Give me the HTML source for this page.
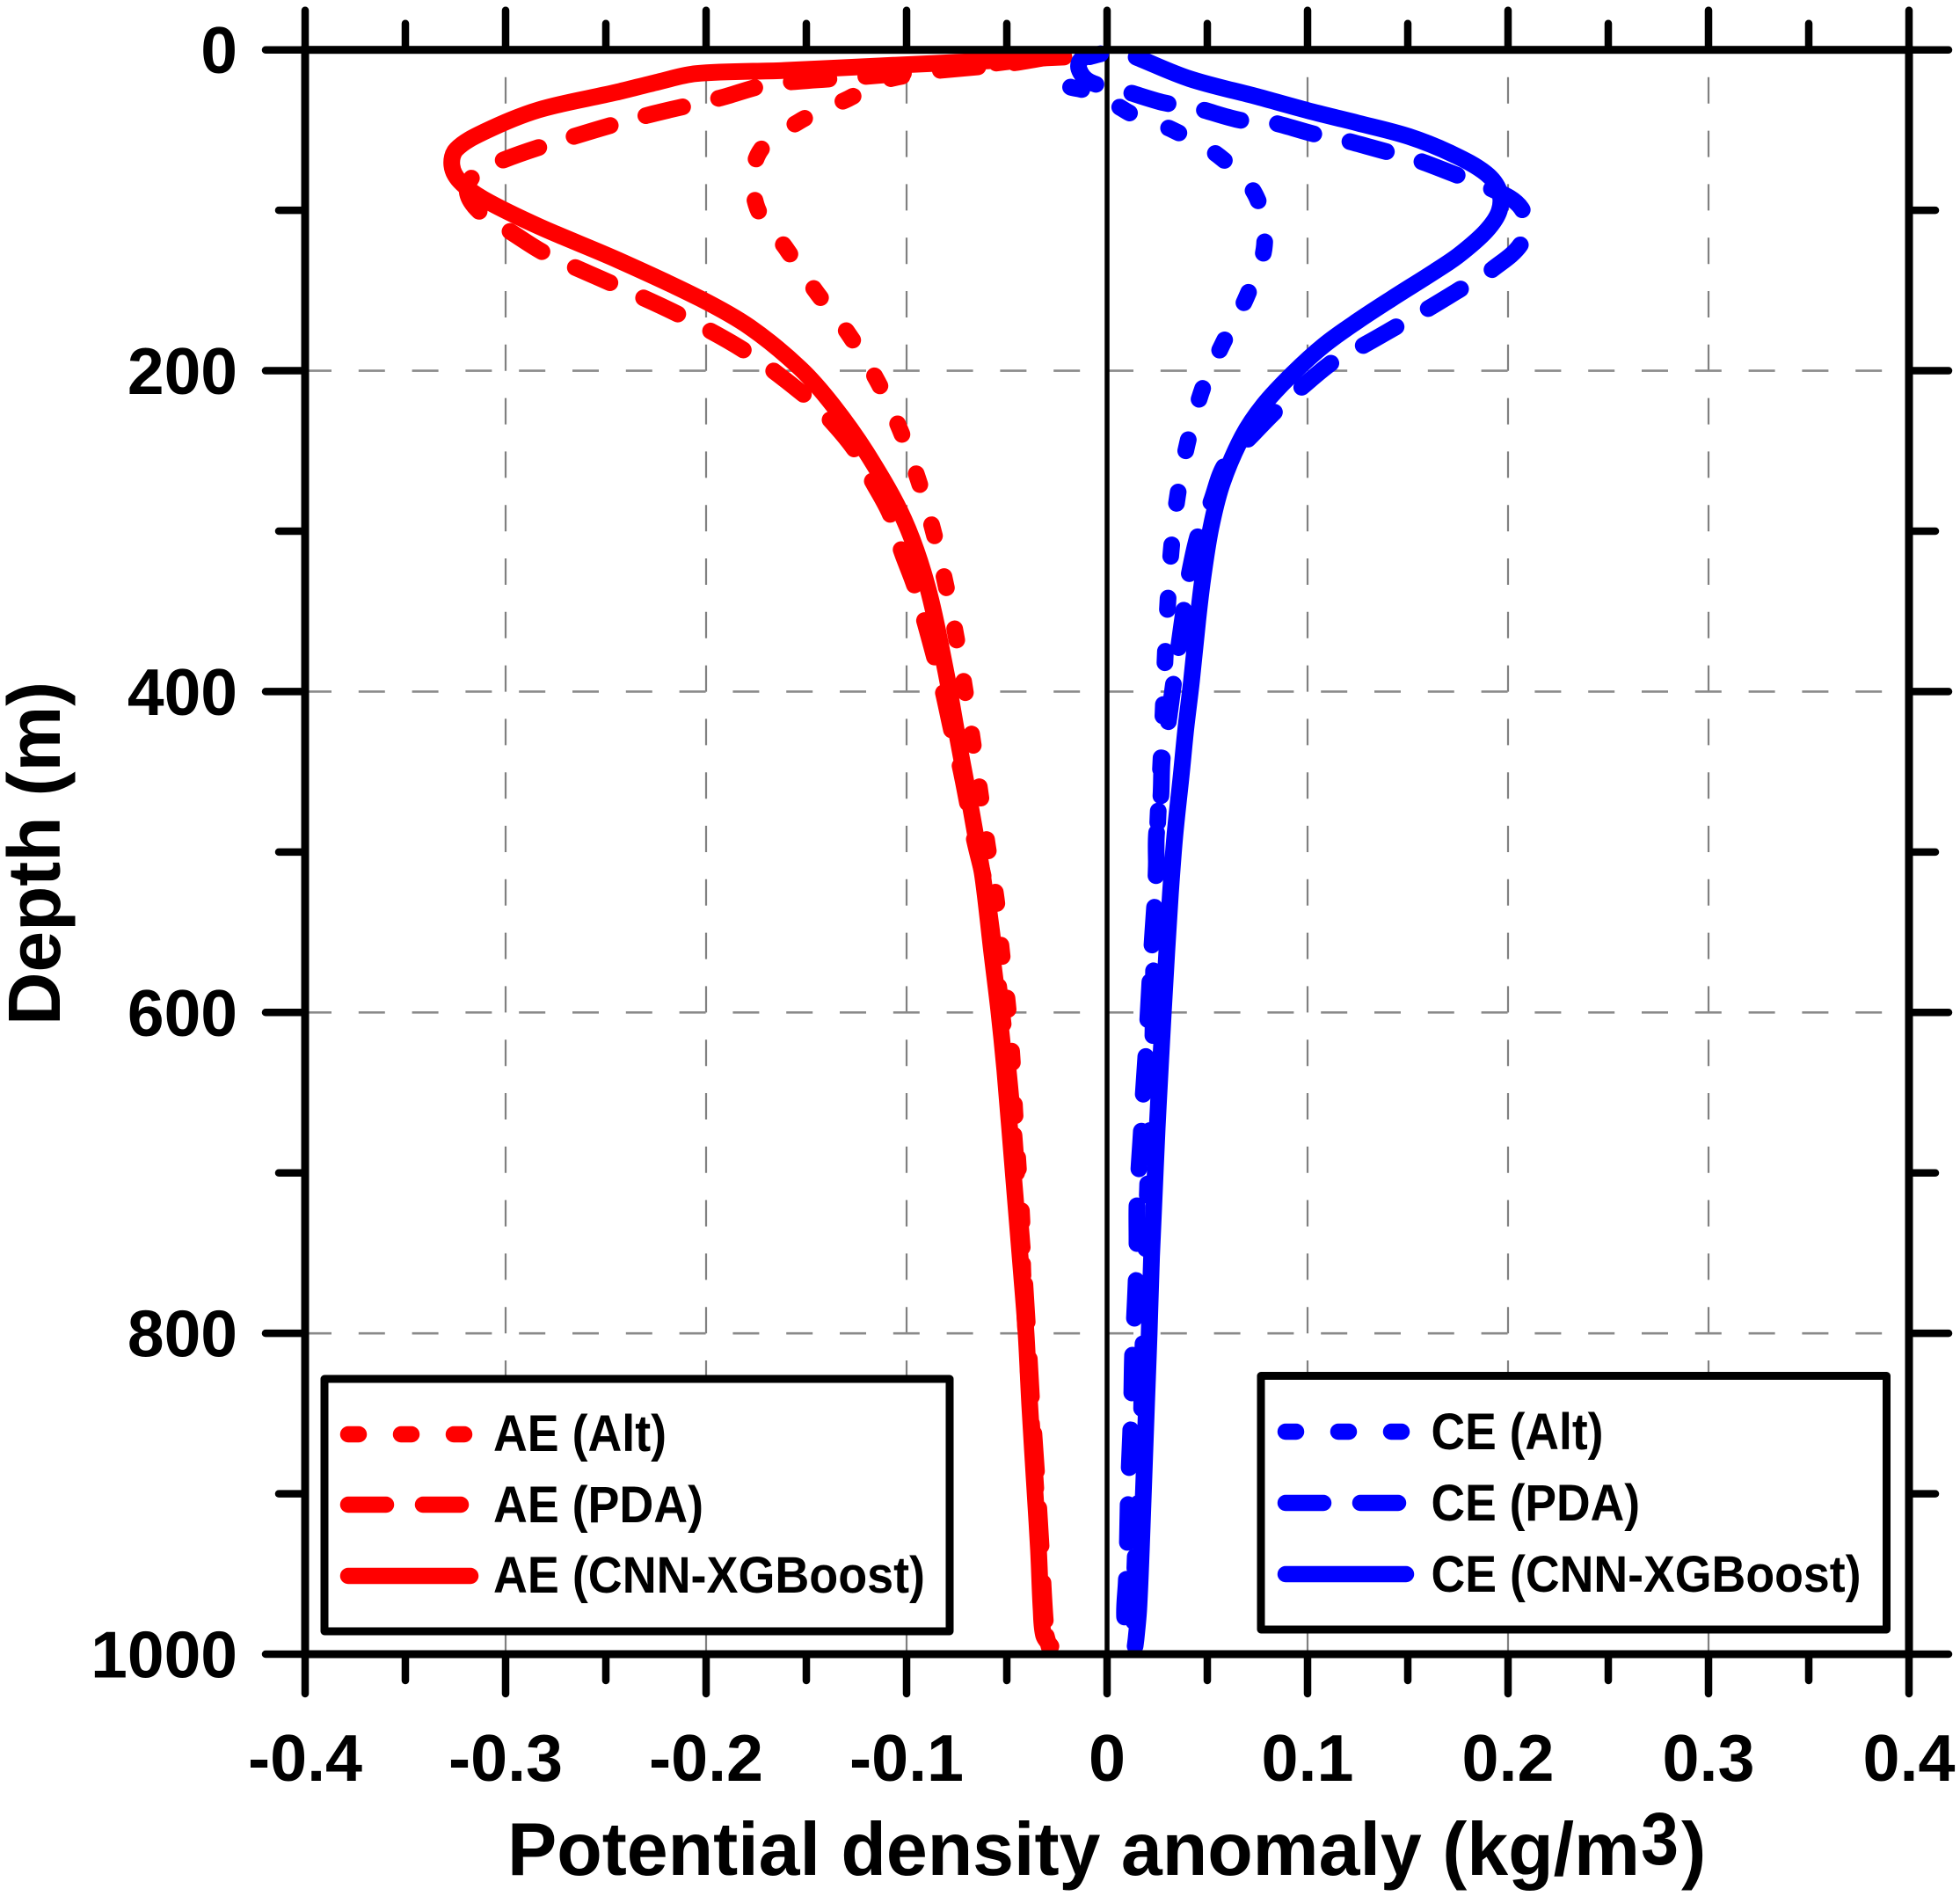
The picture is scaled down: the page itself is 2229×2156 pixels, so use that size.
<!DOCTYPE html>
<html lang="en">
<head>
<meta charset="utf-8">
<title>Potential density anomaly profiles</title>
<style>
html,body{margin:0;padding:0;background:#fff;}
svg{display:block;}
text{font-family:"Liberation Sans",Arial,sans-serif;font-weight:bold;fill:#000;}
</style>
</head>
<body>
<svg id="chart" xmlns="http://www.w3.org/2000/svg" width="2229" height="2156" viewBox="0 0 2229 2156">
  <rect x="0" y="0" width="2229" height="2156" fill="#fff"/>
  <g id="grid"></g>
  <g id="series"></g>
  <g id="axes"></g>
  <g id="labels"></g>

  <g>
    <rect x="369" y="1568" width="711" height="287" fill="#fff" stroke="#000" stroke-width="9" stroke-linejoin="round"/>
    <g>
      <line x1="396" y1="1631" x2="532" y2="1631" stroke="#f00" stroke-width="18.5" stroke-linecap="round" stroke-dasharray="12 48"/>
      <text x="561" y="1650" font-size="58" textLength="197" lengthAdjust="spacingAndGlyphs">AE (Alt)</text>
    </g>
    <g>
      <line x1="396" y1="1711" x2="526" y2="1711" stroke="#f00" stroke-width="18.5" stroke-linecap="round" stroke-dasharray="43 42"/>
      <text x="561" y="1731" font-size="58" textLength="239" lengthAdjust="spacingAndGlyphs">AE (PDA)</text>
    </g>
    <g>
      <line x1="396" y1="1792" x2="535" y2="1792" stroke="#f00" stroke-width="18.5" stroke-linecap="round"/>
      <text x="561" y="1811" font-size="58" textLength="491" lengthAdjust="spacingAndGlyphs">AE (CNN-XGBoost)</text>
    </g>
  </g>

  <g>
    <rect x="1434" y="1564.5" width="711.5" height="288.5" fill="#fff" stroke="#000" stroke-width="9" stroke-linejoin="round"/>
    <g>
      <line x1="1462" y1="1628" x2="1596" y2="1628" stroke="#00f" stroke-width="18.5" stroke-linecap="round" stroke-dasharray="12 48"/>
      <text x="1627.5" y="1648" font-size="58" textLength="196" lengthAdjust="spacingAndGlyphs">CE (Alt)</text>
    </g>
    <g>
      <line x1="1462" y1="1709" x2="1590" y2="1709" stroke="#00f" stroke-width="18.5" stroke-linecap="round" stroke-dasharray="43 42"/>
      <text x="1627.5" y="1729" font-size="58" textLength="237.5" lengthAdjust="spacingAndGlyphs">CE (PDA)</text>
    </g>
    <g>
      <line x1="1462" y1="1790" x2="1599" y2="1790" stroke="#00f" stroke-width="18.5" stroke-linecap="round"/>
      <text x="1627.5" y="1810" font-size="58" textLength="489" lengthAdjust="spacingAndGlyphs">CE (CNN-XGBoost)</text>
    </g>
  </g>

  <g>
    <text x="577" y="2132" font-size="85" textLength="1288" lengthAdjust="spacingAndGlyphs">Potential density anomaly (kg/m</text>
    <text x="1866" y="2120" font-size="84" textLength="43" lengthAdjust="spacingAndGlyphs">3</text>
    <text x="1912" y="2132" font-size="85">)</text>
  </g>
  <text transform="translate(68,1166) rotate(-90)" font-size="84" textLength="391" lengthAdjust="spacingAndGlyphs">Depth (m)</text>
</svg>

<script>
var xTicksMajor = [-0.4, -0.3, -0.2, -0.1, 0, 0.1, 0.2, 0.3, 0.4];
var xTicksMinor = [-0.35, -0.25, -0.15, -0.05, 0.05, 0.15, 0.25, 0.35];
var xTickLabels = ['-0.4', '-0.3', '-0.2', '-0.1', '0', '0.1', '0.2', '0.3', '0.4'];
var yTicksMajor = [0, 200, 400, 600, 800, 1000];
var yTicksMinor = [100, 300, 500, 700, 900];
var yTickLabels = ['0', '200', '400', '600', '800', '1000'];
var xGridValues = [-0.3, -0.2, -0.1, 0.1, 0.2, 0.3];
var yGridValues = [200, 400, 600, 800];

var aeAltDepth = [3,9,14,19.5,30.4,44.6,65,96.6,124,151,177,206.6,236,267.5,299.4,332,365,398,430.4,464,496.5,529,562,595,628,662,696,729,762,800,840,888,933,981,995];
var aeAltValue = [-0.022,-0.06,-0.09,-0.112,-0.129,-0.1535,-0.174,-0.175,-0.16,-0.145,-0.129,-0.1145,-0.1035,-0.0943,-0.0868,-0.0807,-0.0754,-0.071,-0.0671,-0.0632,-0.0596,-0.0553,-0.0526,-0.0496,-0.0474,-0.046,-0.0443,-0.0425,-0.042,-0.0405,-0.0385,-0.036,-0.0337,-0.0315,-0.029];

var aePdaDepth = [3,9,16.6,20,22.7,30,41,54,68.6,78.5,89.5,102,113,127,146,166,189,216.6,230,249,269,290,312,334,356,379,401,424,447,469,492,520,560,600,640,680,720,760,800,840,888,933,981,995];
var aePdaValue = [-0.022,-0.052,-0.121,-0.158,-0.173,-0.193,-0.23,-0.266,-0.301,-0.316,-0.319,-0.312,-0.298,-0.28,-0.2465,-0.212,-0.179,-0.1496,-0.1386,-0.126,-0.117,-0.108,-0.1026,-0.096,-0.091,-0.086,-0.0816,-0.0776,-0.0732,-0.0697,-0.0662,-0.061,-0.0565,-0.0525,-0.049,-0.0462,-0.044,-0.0415,-0.0395,-0.0377,-0.0351,-0.0329,-0.0307,-0.029];

var aeCnnDepth = [4.5,5.6,7.5,10,12.8,14.8,20,26.5,37.4,51,62,72,82,93,110,131,155,173,198.6,221.6,253,293,335,387,429,471,490,517,562.7,599,636,672,709,764,800,844,889.6,935,972,988.5,995];
var aeCnnValue = [-0.0215,-0.0404,-0.0697,-0.1136,-0.16,-0.205,-0.224,-0.245,-0.2835,-0.3105,-0.3246,-0.3268,-0.3228,-0.311,-0.2835,-0.244,-0.203,-0.178,-0.153,-0.1367,-0.119,-0.1012,-0.0895,-0.0805,-0.0745,-0.0682,-0.0655,-0.0618,-0.0575,-0.054,-0.051,-0.0486,-0.0462,-0.0426,-0.0404,-0.0386,-0.0364,-0.0342,-0.0329,-0.0316,-0.028];

var ceAltDepth = [2,6,13,21,25,34.7,40,50,66.5,90.6,122,153.6,183.7,210.6,245.7,278.6,312,344.7,378,411,444.7,478,511,544,573,617,709,803,880,941,995];
var ceAltValue = [-0.002,-0.0115,-0.015,-0.02,-0.012,0.0048,0.0123,0.0329,0.0561,0.0741,0.0785,0.0697,0.0575,0.0478,0.04,0.0351,0.032,0.0303,0.029,0.028,0.0268,0.0254,0.0245,0.0237,0.0232,0.0228,0.0202,0.018,0.0165,0.014,0.013];

var cePdaDepth = [2,5.5,12,20,25.5,33,35.8,44,44.6,52.8,55.5,63.8,67.6,78.5,85,98.7,118.6,137,147,161.7,170.6,184.4,193.6,210,224,239,258.6,282,301.6,328,346.5,374,393.6,421,440.7,466,490,514,534,558,600,628,652,674,699,721,745,767,792,814,839,860.7,885,907,932,954,978,995];
var cePdaValue = [-0.002,-0.0125,-0.014,-0.0085,0.0083,0.0285,0.043,0.067,0.0798,0.1044,0.1158,0.1404,0.1522,0.1754,0.189,0.2066,0.2075,0.192,0.179,0.1596,0.147,0.1276,0.1136,0.0974,0.085,0.0732,0.0588,0.0518,0.0456,0.0408,0.0386,0.0355,0.0333,0.0303,0.0276,0.0268,0.0246,0.0246,0.0237,0.0224,0.0205,0.0193,0.018,0.0171,0.0158,0.0149,0.0149,0.0145,0.0136,0.0127,0.0123,0.0118,0.011,0.0105,0.0101,0.0096,0.0088,0.012];

var ceCnnDepth = [4.5,18,29.2,37.8,45.6,54,65,77,88,100.4,113,128,138,155,169,184,201.9,221.4,241,270,297.8,329,356,393.6,423,452,490,526,562,599,636,672,709,752,800,844,889.6,935,972,990,995];
var ceCnnValue = [0.0145,0.0412,0.075,0.1,0.125,0.1505,0.1724,0.189,0.1956,0.1956,0.189,0.1754,0.1636,0.1421,0.125,0.1083,0.0925,0.078,0.0675,0.0575,0.0518,0.0478,0.0452,0.0421,0.0393,0.037,0.0338,0.0316,0.0298,0.0281,0.0265,0.025,0.0237,0.0222,0.021,0.0197,0.0184,0.0171,0.0158,0.0145,0.014];

var NS = 'http://www.w3.org/2000/svg';
var PLOT_LEFT = 347, PLOT_RIGHT = 2171, PLOT_TOP = 56.7, PLOT_BOTTOM = 1881;

function xScale(v) { return 1259 + v * 2280; }
function yScale(d) { return PLOT_TOP + d * (PLOT_BOTTOM - PLOT_TOP) / 1000; }

function makeLine(x1, y1, x2, y2, stroke, width) {
  var l = document.createElementNS(NS, 'line');
  l.setAttribute('x1', x1);
  l.setAttribute('y1', y1);
  l.setAttribute('x2', x2);
  l.setAttribute('y2', y2);
  l.setAttribute('stroke', stroke);
  l.setAttribute('stroke-width', width);
  return l;
}

function curvePath(values, depths) {
  var pts = values.map(function (v, i) { return [xScale(v), yScale(depths[i])]; });
  var d = 'M' + pts[0][0].toFixed(2) + ' ' + pts[0][1].toFixed(2);
  function tangent(i) {
    var a = pts[Math.max(i - 1, 0)], b = pts[Math.min(i + 1, pts.length - 1)];
    var dx = b[0] - a[0], dy = b[1] - a[1], n = Math.hypot(dx, dy) || 1;
    return [dx / n, dy / n];
  }
  for (var i = 0; i < pts.length - 1; i++) {
    var p = pts[i], q = pts[i + 1];
    var h = Math.hypot(q[0] - p[0], q[1] - p[1]) / 3;
    var t0 = tangent(i), t1 = tangent(i + 1);
    d += 'C' + (p[0] + t0[0] * h).toFixed(2) + ' ' + (p[1] + t0[1] * h).toFixed(2) + ' ' +
      (q[0] - t1[0] * h).toFixed(2) + ' ' + (q[1] - t1[1] * h).toFixed(2) + ' ' +
      q[0].toFixed(2) + ' ' + q[1].toFixed(2);
  }
  return d;
}

function lengthAtDepth(path, depth) {
  var target = yScale(depth), lo = 0, hi = path.getTotalLength();
  for (var i = 0; i < 40; i++) {
    var mid = (lo + hi) / 2;
    if (path.getPointAtLength(mid).y < target) { lo = mid; } else { hi = mid; }
  }
  return lo;
}

function addSeries(name, values, depths, color, dash, gap, anchorDepth) {
  var p = document.createElementNS(NS, 'path');
  
  
  p.setAttribute('d', curvePath(values, depths));
  p.setAttribute('fill', 'none');
  p.setAttribute('stroke', color);
  p.setAttribute('stroke-width', '19');
  p.setAttribute('stroke-linecap', 'round');
  p.setAttribute('stroke-linejoin', 'round');
  document.getElementById('series').appendChild(p);
  if (dash) {
    p.setAttribute('stroke-dasharray', dash + ' ' + gap);
    p.setAttribute('stroke-dashoffset', (dash / 2 - lengthAtDepth(p, anchorDepth)).toFixed(2));
  }
}

var gridG = document.getElementById('grid');
xGridValues.forEach(function (v) {
  var l = makeLine(xScale(v), PLOT_BOTTOM, xScale(v), PLOT_TOP, '#808080', 2.2);
  l.setAttribute('stroke-dasharray', '30 30.8');
  
  
  gridG.appendChild(l);
});
yGridValues.forEach(function (d) {
  var l = makeLine(PLOT_LEFT, yScale(d), PLOT_RIGHT, yScale(d), '#8a8a8a', 2.6);
  l.setAttribute('stroke-dasharray', '30 30.8');
  
  
  gridG.appendChild(l);
});
var zeroLine = makeLine(xScale(0), PLOT_TOP, xScale(0), PLOT_BOTTOM, '#000', 5.5);


gridG.appendChild(zeroLine);

addSeries('series-ae-alt', aeAltValue, aeAltDepth, '#f00', 13, 47.6, 299.4);
addSeries('series-ae-pda', aePdaValue, aePdaDepth, '#f00', 43, 42, 367);
addSeries('series-ae-cnn-xgboost', aeCnnValue, aeCnnDepth, '#f00', 0, 0, 0);
addSeries('series-ce-alt', ceAltValue, ceAltDepth, '#00f', 13, 47.6, 312);
addSeries('series-ce-pda', cePdaValue, cePdaDepth, '#00f', 43, 42, 314.8);
addSeries('series-ce-cnn-xgboost', ceCnnValue, ceCnnDepth, '#00f', 0, 0, 0);

var axesG = document.getElementById('axes');
function addTick(x1, y1, x2, y2, name) {
  var t = makeLine(x1, y1, x2, y2, '#000', 8.5);
  t.setAttribute('stroke-linecap', 'round');
  
  
  axesG.appendChild(t);
}
var MAJOR = 45, MINOR = 30;
xTicksMajor.forEach(function (v) {
  addTick(xScale(v), PLOT_TOP, xScale(v), PLOT_TOP - MAJOR, 'top-major-tick');
  addTick(xScale(v), PLOT_BOTTOM, xScale(v), PLOT_BOTTOM + MAJOR, 'bottom-major-tick');
});
xTicksMinor.forEach(function (v) {
  addTick(xScale(v), PLOT_TOP, xScale(v), PLOT_TOP - MINOR, 'top-minor-tick');
  addTick(xScale(v), PLOT_BOTTOM, xScale(v), PLOT_BOTTOM + MINOR, 'bottom-minor-tick');
});
yTicksMajor.forEach(function (d) {
  addTick(PLOT_LEFT, yScale(d), PLOT_LEFT - MAJOR, yScale(d), 'left-major-tick');
  addTick(PLOT_RIGHT, yScale(d), PLOT_RIGHT + MAJOR, yScale(d), 'right-major-tick');
});
yTicksMinor.forEach(function (d) {
  addTick(PLOT_LEFT, yScale(d), PLOT_LEFT - MINOR, yScale(d), 'left-minor-tick');
  addTick(PLOT_RIGHT, yScale(d), PLOT_RIGHT + MINOR, yScale(d), 'right-minor-tick');
});
var frame = document.createElementNS(NS, 'rect');
frame.setAttribute('x', PLOT_LEFT);
frame.setAttribute('y', PLOT_TOP);
frame.setAttribute('width', PLOT_RIGHT - PLOT_LEFT);
frame.setAttribute('height', PLOT_BOTTOM - PLOT_TOP);
frame.setAttribute('fill', 'none');
frame.setAttribute('stroke', '#000');
frame.setAttribute('stroke-width', '9');


axesG.appendChild(frame);

var labelsG = document.getElementById('labels');
xTicksMajor.forEach(function (v, i) {
  var t = document.createElementNS(NS, 'text');
  t.setAttribute('x', xScale(v));
  t.setAttribute('y', 2025);
  t.setAttribute('font-size', '75.5');
  t.setAttribute('text-anchor', 'middle');
  
  
  t.textContent = xTickLabels[i];
  labelsG.appendChild(t);
});
yTicksMajor.forEach(function (d, i) {
  var t = document.createElementNS(NS, 'text');
  t.setAttribute('x', 270);
  t.setAttribute('y', yScale(d) + 26.5);
  t.setAttribute('font-size', '75');
  t.setAttribute('text-anchor', 'end');
  
  
  t.textContent = yTickLabels[i];
  labelsG.appendChild(t);
});
</script>
</body>
</html>
